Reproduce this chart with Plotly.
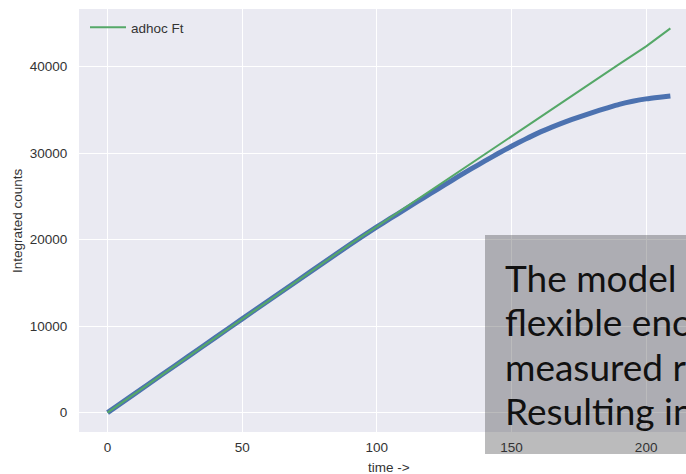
import plotly.graph_objects as go

# ---- data ----
t_fit = [0, 10, 20, 30, 40, 50, 60, 70, 80, 90, 100, 110, 120, 130, 140, 150,
         160, 170, 180, 190, 200, 209]
y_fit = [0, 2170, 4340, 6510, 8680, 10850, 13000, 15150, 17300, 19450, 21500,
         23600, 25700, 27800, 29900, 32000, 34000, 36100, 38200, 40300, 42350, 44440]

t_meas = [0, 10, 20, 30, 40, 50, 60, 70, 80, 90, 100, 105, 110, 115, 120, 125,
          130, 135, 140, 145, 150, 155, 160, 165, 170, 175, 180, 185, 190, 195,
          200, 205, 209]
y_meas = [0, 2170, 4340, 6505, 8675, 10840, 12990, 15140, 17285, 19430, 21470,
          22450, 23420, 24390, 25340, 26300, 27250, 28180, 29080, 29960, 30800,
          31600, 32350, 33010, 33620, 34180, 34700, 35180, 35650, 36000, 36280,
          36480, 36620]

x_ticks = [0, 50, 100, 150, 200]
y_ticks = [0, 10000, 20000, 30000, 40000]

legend_label = "adhoc Ft"
x_title = "time ->"
y_title = "Integrated counts"
overlay_lines = ["The model is not", "flexible enough to fit the",
                 "measured rate.", "Resulting in a bias"]

# ---- layout geometry (pixels) ----
W, H = 686, 474
L, R, T, B = 79, 0, 9, 42
pw, ph = W - L - R, H - T - B

def px_x(p):
    return (p - L) / pw

def px_y(p):
    return (H - B - p) / ph

tick_font = dict(family="Liberation Sans, Arial", size=13.5, color="#333333")

fig = go.Figure()
fig.add_trace(go.Scatter(x=t_meas, y=y_meas, mode="lines",
                         line=dict(color="#4C72B0", width=5, shape="spline",
                                   smoothing=0.6),
                         showlegend=False, hoverinfo="skip"))
fig.add_trace(go.Scatter(x=t_fit, y=y_fit, mode="lines", name=legend_label,
                         line=dict(color="#55A868", width=2)))

fig.update_layout(
    width=W, height=H,
    margin=dict(l=L, r=R, t=T, b=B, pad=0),
    paper_bgcolor="white", plot_bgcolor="#EAEAF2",
    font=dict(family="Liberation Sans, Arial", size=13.5, color="#333333"),
    showlegend=True,
    legend=dict(x=px_x(85), y=px_y(12), xanchor="left", yanchor="top",
                bgcolor="rgba(0,0,0,0)", borderwidth=0, itemwidth=36,
                font=dict(family="Liberation Sans, Arial", size=13.5, color="#333333")),
    xaxis=dict(range=[-10.6, 214.8], tickvals=x_ticks, showgrid=True,
               gridcolor="white", gridwidth=1.3, zeroline=False, showline=False,
               ticks="outside", ticklen=3, tickcolor="rgba(0,0,0,0)",
               tickfont=tick_font),
    yaxis=dict(range=[-2245, 46678], tickvals=y_ticks, tickformat="d",
               showgrid=True, gridcolor="white", gridwidth=1.3, zeroline=False,
               showline=False, ticks="outside", ticklen=8,
               tickcolor="rgba(0,0,0,0)", tickfont=tick_font),
)

annotations = [
    dict(text=x_title, xref="paper", yref="paper", x=px_x(389), y=px_y(467),
         xanchor="center", yanchor="middle", showarrow=False,
         font=dict(family="Liberation Sans, Arial", size=13.5, color="#333333")),
    dict(text=y_title, xref="paper", yref="paper", x=px_x(17), y=px_y(221),
         xanchor="center", yanchor="middle", showarrow=False, textangle=-90,
         font=dict(family="Liberation Sans, Arial", size=13.5, color="#333333")),
]
centers = [277, 321, 366, 410]
for line, cy in zip(overlay_lines, centers):
    annotations.append(dict(text=line, xref="paper", yref="paper", x=px_x(503),
                            y=px_y(cy), xanchor="left", yanchor="middle",
                            showarrow=False,
                            font=dict(family="Lato", size=37, color="#111111")))
fig.update_layout(annotations=annotations)

fig.add_shape(type="rect", xref="paper", yref="paper",
              x0=px_x(485), x1=1.2, y0=px_y(454), y1=px_y(235),
              fillcolor="rgba(50,50,52,0.33)", line=dict(width=0), layer="above")

fig.write_html("out.html")
